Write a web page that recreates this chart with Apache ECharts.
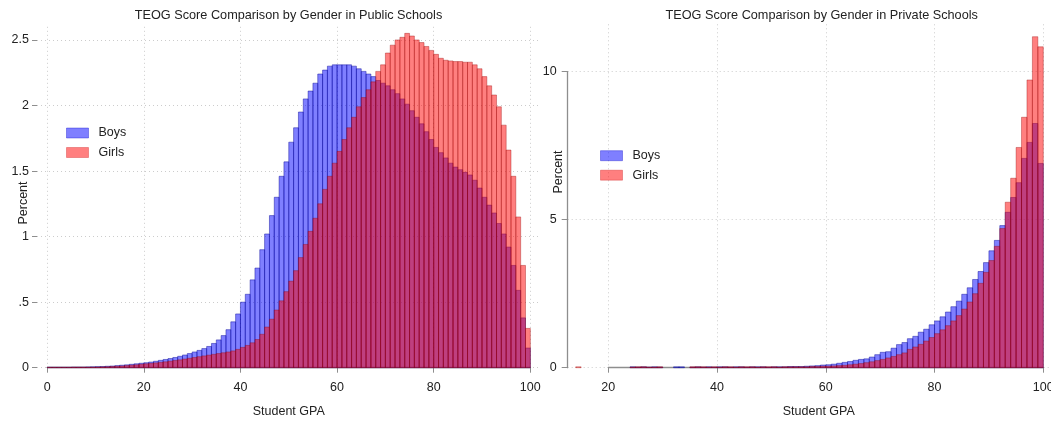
<!DOCTYPE html>
<html>
<head>
<meta charset="utf-8">
<script src="https://cdn.jsdelivr.net/npm/echarts@6/dist/echarts.min.js"></script>
<style>
  html, body { margin: 0; padding: 0; background: #fff; }
  #chart { width: 1051px; height: 423px; }
</style>
</head>
<body>
<div id="chart"></div>
<script>
  // one bin per GPA point, bin k covers [k, k+1)
  var leftBins = [];
  for (var k = 0; k < 100; k++) leftBins.push(k);
  var rightBins = [];
  for (var j = 14; j < 100; j++) rightBins.push(j);

  // public schools, percent per bin (0..99)
  var publicBoys = [
    0.004, 0.004, 0.004, 0.004, 0.004, 0.005, 0.005, 0.005, 0.006, 0.007,
    0.008, 0.009, 0.011, 0.013, 0.016, 0.019, 0.022, 0.026, 0.030, 0.034,
    0.038, 0.043, 0.049, 0.056, 0.063, 0.070, 0.078, 0.087, 0.097, 0.108,
    0.120, 0.132, 0.146, 0.162, 0.185, 0.212, 0.245, 0.290, 0.350, 0.410,
    0.500, 0.560, 0.670, 0.760, 0.900, 1.020, 1.160, 1.300, 1.460, 1.570,
    1.720, 1.830, 1.950, 2.050, 2.110, 2.170, 2.240, 2.270, 2.300, 2.310,
    2.310, 2.310, 2.310, 2.300, 2.280, 2.260, 2.240, 2.220, 2.190, 2.170,
    2.150, 2.120, 2.090, 2.050, 2.010, 1.960, 1.910, 1.860, 1.800, 1.740,
    1.680, 1.640, 1.600, 1.560, 1.530, 1.510, 1.490, 1.470, 1.430, 1.370,
    1.300, 1.240, 1.180, 1.100, 1.020, 0.920, 0.780, 0.590, 0.380, 0.150
  ];
  var publicGirls = [
    0.003, 0.003, 0.003, 0.003, 0.003, 0.004, 0.004, 0.004, 0.004, 0.004,
    0.005, 0.006, 0.007, 0.009, 0.011, 0.013, 0.016, 0.019, 0.022, 0.026,
    0.030, 0.033, 0.037, 0.041, 0.045, 0.050, 0.055, 0.060, 0.066, 0.072,
    0.078, 0.084, 0.090, 0.096, 0.102, 0.108, 0.114, 0.120, 0.128, 0.140,
    0.155, 0.170, 0.190, 0.215, 0.255, 0.310, 0.370, 0.440, 0.510, 0.580,
    0.660, 0.740, 0.840, 0.940, 1.040, 1.140, 1.250, 1.360, 1.460, 1.560,
    1.650, 1.740, 1.830, 1.910, 1.990, 2.060, 2.120, 2.180, 2.260, 2.310,
    2.400, 2.460, 2.500, 2.520, 2.550, 2.530, 2.500, 2.480, 2.450, 2.420,
    2.390, 2.360, 2.345, 2.340, 2.335, 2.335, 2.330, 2.330, 2.310, 2.280,
    2.220, 2.150, 2.080, 1.990, 1.850, 1.660, 1.460, 1.150, 0.780, 0.300
  ];

  // private schools, percent per bin (14..99)
  var privateBoys = [
    0, 0, 0, 0, 0, 0, 0, 0, 0, 0,
    0.03, 0.02, 0.03, 0.02, 0.03, 0.02, 0, 0, 0.03, 0.03,
    0, 0.02, 0.03, 0.02, 0.03, 0.02, 0.03, 0.03, 0.02, 0.03,
    0.03, 0.02, 0.03, 0.03, 0.03, 0.02, 0.03, 0.03, 0.03, 0.04,
    0.04, 0.04, 0.05, 0.06, 0.07, 0.09, 0.10, 0.12, 0.15, 0.18,
    0.21, 0.25, 0.28, 0.30, 0.36, 0.44, 0.52, 0.54, 0.66, 0.78,
    0.85, 0.98, 1.06, 1.20, 1.30, 1.45, 1.58, 1.72, 1.88, 2.06,
    2.25, 2.48, 2.70, 2.98, 3.25, 3.55, 3.95, 4.30, 4.80, 5.25,
    5.75, 6.25, 7.07, 7.61, 8.25, 6.90
  ];
  var privateGirls = [
    0.03, 0, 0, 0, 0, 0, 0, 0, 0, 0,
    0.02, 0.03, 0.03, 0.02, 0.02, 0.03, 0, 0, 0, 0,
    0, 0.03, 0.03, 0.03, 0.02, 0.03, 0.02, 0.03, 0.03, 0.02,
    0.03, 0.03, 0.03, 0.02, 0.03, 0.03, 0.03, 0.02, 0.03, 0.03,
    0.03, 0.03, 0.03, 0.04, 0.04, 0.05, 0.05, 0.06, 0.07, 0.08,
    0.10, 0.12, 0.14, 0.17, 0.20, 0.24, 0.28, 0.33, 0.38, 0.44,
    0.50, 0.62, 0.70, 0.79, 0.90, 1.02, 1.15, 1.28, 1.42, 1.58,
    1.76, 1.98, 2.22, 2.50, 2.85, 3.22, 3.62, 4.10, 4.70, 5.59,
    6.40, 7.44, 8.46, 9.72, 11.18, 10.84
  ];

  var publicYLabels = ['0', '.5', '1', '1.5', '2', '2.5'];
  var privateYLabels = ['0', '5', '10'];

  var font = "'Liberation Sans', Arial, sans-serif";
  var ink = '#222';
  var axisGray = '#8e8e8e';
  var gridDots = { color: '#cccccc', width: 1, type: [1, 3] };

  var boysColor = 'rgba(0,0,255,0.5)';
  var boysEdge = 'rgba(0,0,150,0.55)';
  var girlsColor = 'rgba(255,0,0,0.5)';
  var girlsEdge = 'rgba(150,0,0,0.45)';

  function pairs(bins, vals) {
    return bins.map(function (b, i) { return [b, vals[i]]; });
  }

  function renderBin(params, api) {
    var x0 = api.value(0);
    var v = api.value(1);
    if (!v) return null;
    var top = api.coord([x0, v]);
    var base = api.coord([x0 + 1, 0]);
    return {
      type: 'rect',
      shape: { x: top[0], y: top[1], width: base[0] - top[0], height: base[1] - top[1] },
      style: api.style()
    };
  }

  function hist(name, gridIdx, data, fill, edge) {
    return {
      name: name,
      type: 'custom',
      xAxisIndex: gridIdx,
      yAxisIndex: gridIdx,
      renderItem: renderBin,
      encode: { x: 0, y: 1 },
      itemStyle: { color: fill, borderColor: edge, borderWidth: 0.8 },
      data: data,
      silent: true
    };
  }

  var hidden = { show: false };
  function blankAxis(gridIdx, min, max) {
    return { type: 'value', gridIndex: gridIdx, min: min, max: max, show: false };
  }

  function legendFor(left, top) {
    return {
      orient: 'vertical', left: left, top: top, padding: 0,
      itemWidth: 22, itemHeight: 10, itemGap: 5.5, icon: 'rect',
      selectedMode: false,
      textStyle: { fontSize: 12.5, color: ink, fontFamily: font, lineHeight: 14, padding: [0, 0, 0, 5] },
      data: [
        { name: 'Boys', itemStyle: { color: boysColor, borderColor: 'rgba(0,0,200,0.35)', borderWidth: 1 } },
        { name: 'Girls', itemStyle: { color: girlsColor, borderColor: 'rgba(200,0,0,0.3)', borderWidth: 1 } }
      ]
    };
  }

  var chart = echarts.init(document.getElementById('chart'));

  var option = {
    backgroundColor: '#fff',
    animation: false,
    textStyle: { fontFamily: font },
    grid: [
      // public: data, y ticks/gridlines, x axis
      { left: 37, top: 26.8, width: 503, height: 340.9, outerBoundsMode: 'none' },
      { left: 37, top: 40, width: 503, height: 327.7, outerBoundsMode: 'none' },
      { left: 47.2, top: 26.8, width: 483.1, height: 340.9, outerBoundsMode: 'none' },
      // private
      { left: 567.7, top: 24.3, width: 483.3, height: 343.4, outerBoundsMode: 'none' },
      { left: 567.7, top: 71.7, width: 483.3, height: 296, outerBoundsMode: 'none' },
      { left: 608.3, top: 24.3, width: 435, height: 343.4, outerBoundsMode: 'none' }
    ],
    xAxis: [
      blankAxis(0, -2.11, 102),
      blankAxis(1, 0, 1),
      {
        type: 'value', gridIndex: 2, min: 0, max: 100, interval: 20,
        offset: 10,
        name: 'Student GPA', nameLocation: 'middle', nameGap: 27,
        nameTextStyle: { fontSize: 12.5, color: ink, fontFamily: font },
        axisLine: { lineStyle: { color: axisGray, width: 1.3 } },
        axisTick: { length: 5, lineStyle: { color: axisGray } },
        axisLabel: { margin: 3, fontSize: 12.5, color: ink, fontFamily: font },
        splitLine: { show: true, lineStyle: gridDots }
      },
      blankAxis(3, 12.53, 101.42),
      blankAxis(4, 0, 1),
      {
        type: 'value', gridIndex: 5, min: 20, max: 100, interval: 20,
        offset: 10,
        name: 'Student GPA', nameLocation: 'middle', nameGap: 27,
        nameTextStyle: { fontSize: 12.5, color: ink, fontFamily: font, padding: [0, 14, 0, 0] },
        axisLine: { lineStyle: { color: axisGray, width: 1.3 } },
        axisTick: { length: 5, lineStyle: { color: axisGray } },
        axisLabel: { margin: 3, fontSize: 12.5, color: ink, fontFamily: font },
        splitLine: { show: true, lineStyle: gridDots }
      }
    ],
    yAxis: [
      blankAxis(0, 0, 2.6),
      {
        type: 'value', gridIndex: 1, min: 0, max: 2.5, interval: 0.5,
        axisLine: hidden,
        axisTick: { show: true, length: 5, lineStyle: { color: axisGray } },
        axisLabel: {
          margin: 8, fontSize: 12.5, color: ink, fontFamily: font,
          formatter: function (v, i) { return publicYLabels[i]; }
        },
        splitLine: { show: true, lineStyle: gridDots }
      },
      blankAxis(2, 0, 1),
      blankAxis(3, 0, 11.6),
      {
        type: 'value', gridIndex: 4, min: 0, max: 10, interval: 5,
        axisLine: { show: true, lineStyle: { color: axisGray, width: 1.3 } },
        axisTick: { show: true, length: 6, lineStyle: { color: axisGray } },
        axisLabel: {
          margin: 11, fontSize: 12.5, color: ink, fontFamily: font,
          formatter: function (v, i) { return privateYLabels[i]; }
        },
        splitLine: { show: true, lineStyle: gridDots }
      },
      blankAxis(5, 0, 1)
    ],
    legend: [legendFor(66, 126), legendFor(600, 148.7)],
    graphic: [
      {
        type: 'text', x: 288.5, y: 15.5, silent: true,
        style: { text: 'TEOG Score Comparison by Gender in Public Schools', fill: ink,
          font: '12.7px ' + font, align: 'center', verticalAlign: 'middle' }
      },
      {
        type: 'text', x: 821.7, y: 15.5, silent: true,
        style: { text: 'TEOG Score Comparison by Gender in Private Schools', fill: ink,
          font: '12.7px ' + font, align: 'center', verticalAlign: 'middle' }
      },
      {
        type: 'text', x: 24, y: 203, rotation: Math.PI / 2, silent: true,
        style: { text: 'Percent', fill: ink, font: '12.5px ' + font, align: 'center', verticalAlign: 'middle' }
      },
      {
        type: 'text', x: 559, y: 172, rotation: Math.PI / 2, silent: true,
        style: { text: 'Percent', fill: ink, font: '12.5px ' + font, align: 'center', verticalAlign: 'middle' }
      }
    ],
    series: [
      hist('Boys', 0, pairs(leftBins, publicBoys), boysColor, boysEdge),
      hist('Girls', 0, pairs(leftBins, publicGirls), girlsColor, girlsEdge),
      hist('Boys', 3, pairs(rightBins, privateBoys), boysColor, boysEdge),
      hist('Girls', 3, pairs(rightBins, privateGirls), girlsColor, girlsEdge)
    ]
  };

  chart.setOption(option);
</script>
</body>
</html>
